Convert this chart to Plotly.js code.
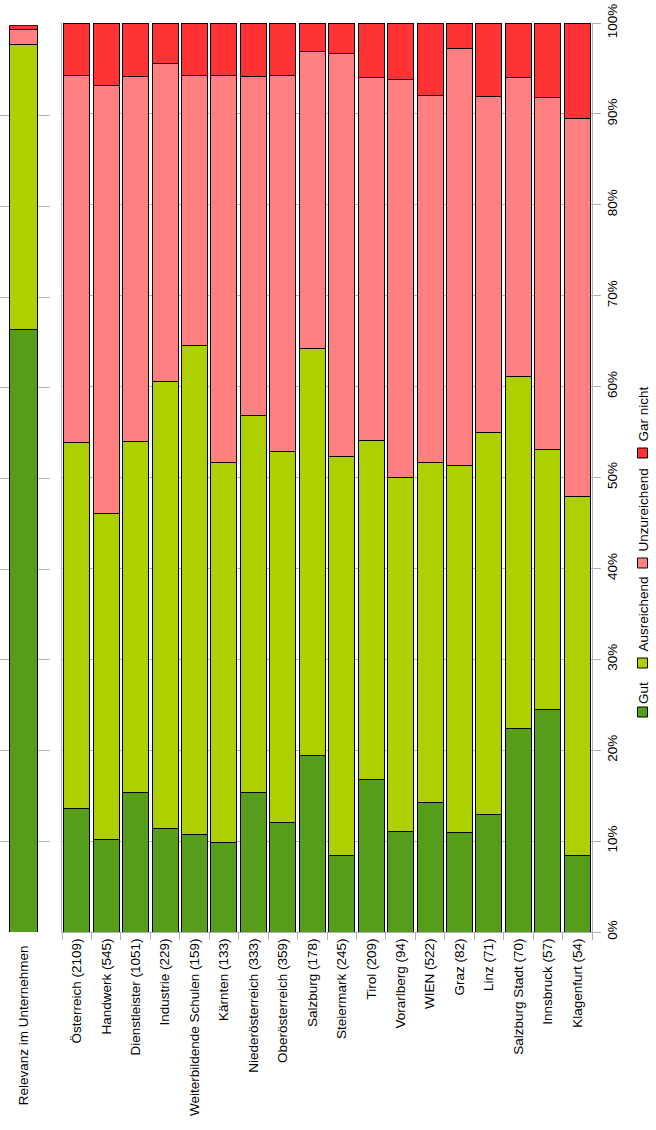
<!DOCTYPE html>
<html>
<head>
<meta charset="utf-8">
<script src="https://cdn.plot.ly/plotly-3.0.1.min.js"></script>
<style>
  html, body { margin: 0; padding: 0; background: #fff; }
  #chart { width: 656px; height: 1130px; }
</style>
</head>
<body>
<div id="chart"></div>
<script>
// ---- data (percent) ----
const categories = [
  'Österreich (2109)', 'Handwerk (545)', 'Dienstleister (1051)', 'Industrie (229)',
  'Weiterbildende Schulen (159)', 'Kärnten (133)', 'Niederösterreich (333)',
  'Oberösterreich (359)', 'Salzburg (178)', 'Steiermark (245)', 'Tirol (209)',
  'Vorarlberg (94)', 'WIEN (522)', 'Graz (82)', 'Linz (71)', 'Salzburg Stadt (70)',
  'Innsbruck (57)', 'Klagenfurt (54)'
];
const gut          = [13.6, 10.2, 15.3, 11.4, 10.7,  9.9, 15.4, 12.1, 19.4,  8.4, 16.8, 11.1, 14.2, 10.9, 12.9, 22.4, 24.5,  8.4];
const ausreichend  = [40.2, 35.8, 38.7, 49.2, 53.8, 41.8, 41.4, 40.8, 44.8, 43.9, 37.3, 38.9, 37.5, 40.4, 42.0, 38.7, 28.6, 39.5];
const unzureichend = [40.45, 47.1, 40.1, 35.0, 29.75, 42.55, 37.3, 41.35, 32.7, 44.4, 39.9, 43.8, 40.3, 45.9, 37.0, 32.9, 38.7, 41.6];
const garNicht     = [5.75,  6.9,  5.9,  4.4,  5.75,  5.75,  5.9,  5.75,  3.1,  3.3,  6.0,  6.2,  8.0,  2.8,  8.1,  6.0,  8.2, 10.5];

const relevanzCategory = ['Relevanz im Unternehmen'];
const relevanzGut          = [66.5];
const relevanzAusreichend  = [31.4];
const relevanzUnzureichend = [1.65];
const relevanzGarNicht     = [0.45];

const seriesNames = ['Gut', 'Ausreichend', 'Unzureichend', 'Gar nicht'];
const yTicks = [0, 10, 20, 30, 40, 50, 60, 70, 80, 90, 100];
const yTickLabels = yTicks.map(v => v + '%');

// ---- styles ----
const colors = ['#579d1c', '#aecf00', '#ff8080', '#ff3333'];
const FONT = 'Liberation Sans, Arial, sans-serif';
const FS = 13.5;
const GRID = '#b3b3b3';

const mainVals = [gut, ausreichend, unzureichend, garNicht];
const relVals = [relevanzGut, relevanzAusreichend, relevanzUnzureichend, relevanzGarNicht];

const traces = [];
seriesNames.forEach((name, i) => {
  traces.push({
    type: 'bar', name: name, x: categories, y: mainVals[i],
    xaxis: 'x', yaxis: 'y',
    marker: { color: colors[i], line: { color: '#000', width: 1 } },
    showlegend: false, hoverinfo: 'x+y+name'
  });
  traces.push({
    type: 'bar', name: name, x: relevanzCategory, y: relVals[i],
    xaxis: 'x2', yaxis: 'y2', width: 0.593,
    marker: { color: colors[i], line: { color: '#000', width: 1 } },
    showlegend: false, hoverinfo: 'x+y+name'
  });
});

// Legend drawn as rotated annotations + swatches
const H = 909; // plot area height in px
const py = p => (932 - p) / H;
const legendTextStart = [705, 653, 553, 443];
const legendBox = [712, 663, 563, 453];
const annotations = seriesNames.map((n, i) => ({
  xref: 'paper', yref: 'paper', x: 643 / 592, y: py(legendTextStart[i]),
  text: n, showarrow: false, textangle: -90,
  xanchor: 'center', yanchor: 'bottom', borderpad: 0,
  font: { family: FONT, size: FS, color: '#000' }
}));
const shapes = seriesNames.map((n, i) => ({
  type: 'rect', xref: 'paper', yref: 'paper',
  x0: 637.5 / 592, x1: 647.5 / 592,
  y0: py(legendBox[i] + 5), y1: py(legendBox[i] - 5),
  fillcolor: colors[i], line: { color: '#000', width: 1 }
}));

const layout = {
  width: 656, height: 1130,
  margin: { l: 0, r: 64, t: 23, b: 198 },
  paper_bgcolor: '#fff', plot_bgcolor: 'rgba(0,0,0,0)',
  barmode: 'stack', bargap: 0.117,
  showlegend: false,
  font: { family: FONT, size: FS, color: '#000' },
  xaxis: {
    domain: [62 / 592, 1], type: 'category', anchor: 'y',
    showline: true, linecolor: GRID, linewidth: 1,
    ticks: 'outside', tickson: 'boundaries', ticklen: 7, tickcolor: GRID,
    tickangle: -90, tickfont: { family: FONT, size: FS, color: '#000' },
    showgrid: false, fixedrange: true
  },
  yaxis: {
    domain: [0, 1], anchor: 'x', side: 'right', range: [0, 100],
    tickmode: 'array', tickvals: yTicks, ticktext: yTickLabels,
    showline: true, mirror: true, linecolor: GRID, linewidth: 1,
    ticks: 'outside', ticklen: 8, tickcolor: GRID,
    tickangle: -90, tickfont: { family: FONT, size: FS, color: '#000' },
    showgrid: true, gridcolor: GRID, gridwidth: 1, zeroline: false, fixedrange: true
  },
  xaxis2: {
    domain: [0, 50 / 592], type: 'category', anchor: 'y2', range: [-0.5, 0.56],
    showline: false, ticks: 'outside', ticklen: 7, tickcolor: 'rgba(0,0,0,0)',
    tickangle: -90, tickfont: { family: FONT, size: FS, color: '#000' },
    showgrid: false, fixedrange: true
  },
  yaxis2: {
    domain: [0, (932 - 25.3) / H], anchor: 'x2', range: [0, 100],
    tickmode: 'array', tickvals: yTicks, showticklabels: false, ticks: '',
    showline: false, showgrid: true, gridcolor: GRID, gridwidth: 1,
    zeroline: false, fixedrange: true
  },
  annotations: annotations,
  shapes: shapes
};

Plotly.newPlot('chart', traces, layout, { displayModeBar: false, staticPlot: true });
</script>
</body>
</html>
